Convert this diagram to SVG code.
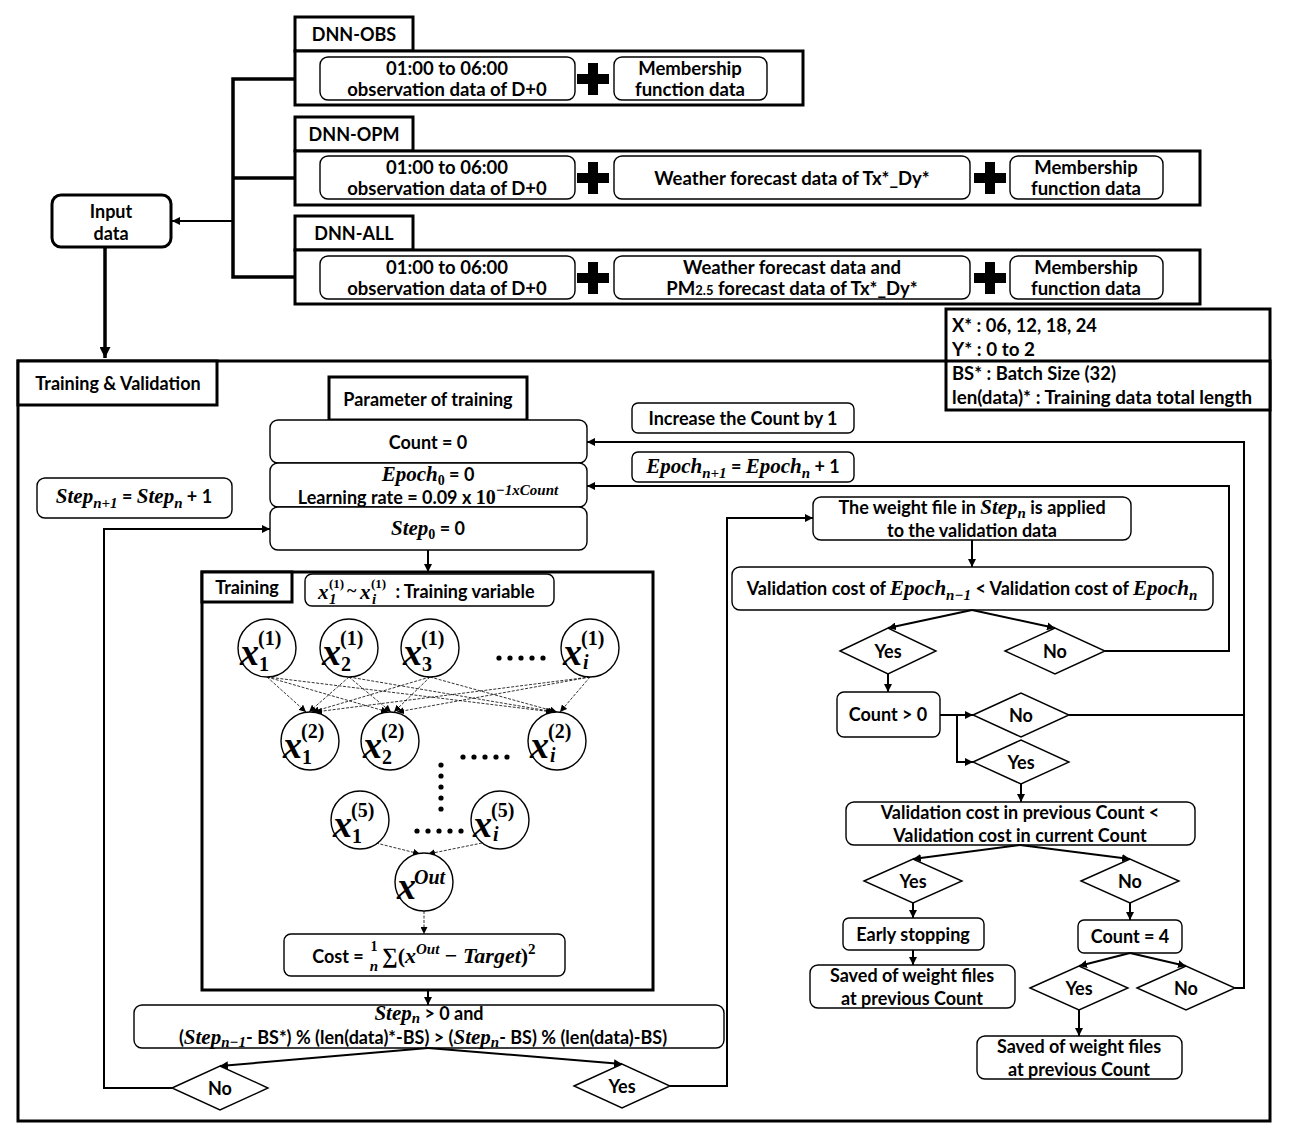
<svg xmlns="http://www.w3.org/2000/svg" width="1290" height="1141" viewBox="0 0 1290 1141">
<defs>
<style>
.bx{fill:#fff;stroke:#000;stroke-width:3}
.rb{fill:#fff;stroke:#000;stroke-width:1.4}
.ln{fill:none;stroke:#000;stroke-width:2}
.th{fill:none;stroke:#000;stroke-width:3.5}
.nn{fill:none;stroke:#000;stroke-width:0.8;stroke-dasharray:3 1.5}
.nc{fill:#fff;stroke:#000;stroke-width:1.4}
.t{font-family:Lato,'Open Sans',sans-serif;font-weight:700;font-size:18px;text-anchor:middle;fill:#000}
.tt{font-size:18.5px}
.n{font-family:Lato,'Open Sans',sans-serif;font-weight:700;font-size:19px;fill:#000}
.m{font-family:'Liberation Serif','DejaVu Serif',serif;font-style:italic;font-weight:700;font-size:21px}
.s{font-family:'Liberation Serif','DejaVu Serif',serif;font-style:italic;font-weight:700;font-size:15px}
.u{font-family:'Liberation Serif','DejaVu Serif',serif;font-weight:700}
.cx{font-family:'Liberation Serif','DejaVu Serif',serif;font-style:italic;font-weight:700;font-size:38px;fill:#000}
.cs{font-family:'Liberation Serif','DejaVu Serif',serif;font-weight:700;font-size:20px;fill:#000}
.dt{fill:#000}
</style>
<marker id="ah" viewBox="0 0 10 10" refX="10" refY="5" markerWidth="8" markerHeight="8" markerUnits="userSpaceOnUse" orient="auto">
<path d="M0,0 L10,5 L0,10 z" fill="#000"/>
</marker>
<marker id="as" viewBox="0 0 10 10" refX="10" refY="5" markerWidth="7" markerHeight="7" markerUnits="userSpaceOnUse" orient="auto">
<path d="M0,0 L10,5 L0,10 z" fill="#000"/>
</marker>
<marker id="ab" viewBox="0 0 10 10" refX="10" refY="5" markerWidth="11" markerHeight="11" markerUnits="userSpaceOnUse" orient="auto">
<path d="M0,0 L10,5 L0,10 z" fill="#000"/>
</marker>
<path id="plus" d="M-5,-16 h10 v11 h11 v10 h-11 v11 h-10 v-11 h-11 v-10 h11 z" fill="#000"/>
</defs>

<!-- Top input groups -->
<g id="dnn-obs">
<rect class="bx" x="295" y="17" width="118" height="34"/>
<text class="t" x="354" y="41">DNN-OBS</text>
<rect class="bx" x="295" y="51" width="508" height="54"/>
<rect class="rb" x="320" y="57" width="255" height="43" rx="8"/>
<text class="t tt" x="447" y="75">01:00 to 06:00</text>
<text class="t tt" x="447" y="96">observation data of D+0</text>
<use href="#plus" x="593" y="79"/>
<rect class="rb" x="614" y="57" width="153" height="43" rx="8"/>
<text class="t tt" x="690" y="75">Membership</text>
<text class="t tt" x="690" y="96">function data</text>
</g>

<g id="dnn-opm">
<rect class="bx" x="295" y="117" width="118" height="34"/>
<text class="t" x="354" y="141">DNN-OPM</text>
<rect class="bx" x="295" y="151" width="905" height="54"/>
<rect class="rb" x="320" y="156" width="255" height="43" rx="8"/>
<text class="t tt" x="447" y="174">01:00 to 06:00</text>
<text class="t tt" x="447" y="195">observation data of D+0</text>
<use href="#plus" x="593" y="178"/>
<rect class="rb" x="614" y="156" width="356" height="43" rx="8"/>
<text class="t tt" x="792" y="185" font-size="19">Weather forecast data of Tx*_Dy*</text>
<use href="#plus" x="990" y="178"/>
<rect class="rb" x="1010" y="156" width="153" height="43" rx="8"/>
<text class="t tt" x="1086" y="174">Membership</text>
<text class="t tt" x="1086" y="195">function data</text>
</g>

<g id="dnn-all">
<rect class="bx" x="295" y="216" width="118" height="34"/>
<text class="t" x="354" y="240">DNN-ALL</text>
<rect class="bx" x="295" y="250" width="905" height="54"/>
<rect class="rb" x="320" y="256" width="255" height="43" rx="8"/>
<text class="t tt" x="447" y="274">01:00 to 06:00</text>
<text class="t tt" x="447" y="295">observation data of D+0</text>
<use href="#plus" x="593" y="278"/>
<rect class="rb" x="614" y="256" width="356" height="43" rx="8"/>
<text class="t tt" x="792" y="274">Weather forecast data and</text>
<text class="t tt" x="792" y="295">PM<tspan font-size="13">2.5</tspan> forecast data of Tx*_Dy*</text>
<use href="#plus" x="990" y="278"/>
<rect class="rb" x="1010" y="256" width="153" height="43" rx="8"/>
<text class="t tt" x="1086" y="274">Membership</text>
<text class="t tt" x="1086" y="295">function data</text>
</g>

<g id="input-data">
<rect x="52" y="195" width="119" height="52" rx="9" fill="#fff" stroke="#000" stroke-width="3"/>
<text class="t" x="111" y="218" font-size="20">Input</text>
<text class="t" x="111" y="240" font-size="20">data</text>
</g>

<!-- Training & Validation frame -->
<g id="frame">
<rect x="18" y="361" width="1252" height="760" fill="none" stroke="#000" stroke-width="3"/>
<rect class="bx" x="18" y="361" width="199" height="44"/>
<text class="t" x="118" y="390">Training &amp; Validation</text>
</g>

<g id="notes">
<rect x="946" y="309" width="324" height="101" fill="#fff" stroke="#000" stroke-width="3"/>
<line x1="946" y1="361" x2="1270" y2="361" stroke="#000" stroke-width="3"/>
<text class="n" x="952" y="332" textLength="145" lengthAdjust="spacingAndGlyphs">X* : 06, 12, 18, 24</text>
<text class="n" x="952" y="356" textLength="83" lengthAdjust="spacingAndGlyphs">Y* : 0 to 2</text>
<text class="n" x="952" y="380" textLength="164" lengthAdjust="spacingAndGlyphs">BS* : Batch Size (32)</text>
<text class="n" x="952" y="404" textLength="300" lengthAdjust="spacingAndGlyphs">len(data)* : Training data total length</text>
</g>

<g id="param-tab">
<rect class="bx" x="329" y="377" width="198" height="43"/>
<text class="t" x="428" y="406">Parameter of training</text>
</g>
<g id="count0">
<rect class="rb" x="270" y="420" width="317" height="43" rx="8"/>
<text class="t" x="428" y="449">Count = 0</text>
</g>
<g id="epoch0">
<rect class="rb" x="270" y="463" width="317" height="44" rx="8"/>
<text class="t" x="428" y="481"><tspan class="m">Epoch</tspan><tspan class="u" font-size="14" dy="4">0</tspan><tspan dy="-4"> = 0</tspan></text>
<text class="t" x="428" y="504">Learning rate = 0.09 x <tspan class="u" font-size="20">10</tspan><tspan class="s" font-size="14" dy="-9">−1xCount</tspan></text>
</g>
<g id="step0">
<rect class="rb" x="270" y="507" width="317" height="43" rx="8"/>
<text class="t" x="428" y="535"><tspan class="m">Step</tspan><tspan class="u" font-size="14" dy="4">0</tspan><tspan dy="-4"> = 0</tspan></text>
</g>
<g id="step-inc">
<rect class="rb" x="37" y="478" width="195" height="40" rx="8"/>
<text class="t" x="134" y="503"><tspan class="m">Step</tspan><tspan class="s" dy="5">n+1</tspan><tspan dy="-5"> = </tspan><tspan class="m">Step</tspan><tspan class="s" dy="5">n</tspan><tspan dy="-5"> + 1</tspan></text>
</g>

<!-- Training network -->
<g id="training">
<rect x="202" y="572" width="451" height="418" fill="none" stroke="#000" stroke-width="3"/>
<rect class="bx" x="202" y="572" width="90" height="30"/>
<text class="t" x="247" y="594">Training</text>
<rect class="rb" x="305" y="574" width="249" height="32" rx="7"/>
<text x="318" y="599" font-family="'Liberation Serif','DejaVu Serif',serif" font-weight="700" font-size="21" font-style="italic">x</text>
<text x="329" y="588" class="u" font-size="13">(1)</text>
<text x="329" y="604" class="s" font-size="13">1</text>
<text x="347" y="597" class="u" font-size="18">~</text>
<text x="360" y="599" font-family="'Liberation Serif','DejaVu Serif',serif" font-weight="700" font-size="21" font-style="italic">x</text>
<text x="371" y="588" class="u" font-size="13">(1)</text>
<text x="372" y="604" class="s" font-size="13">i</text>
<text class="t" x="465" y="598">: Training variable</text>
</g>

<g id="net-links">
<line class="nn" x1="267" y1="677" x2="306" y2="712" marker-end="url(#as)"/>
<line class="nn" x1="267" y1="677" x2="388" y2="712" marker-end="url(#as)"/>
<line class="nn" x1="267" y1="677" x2="553" y2="712" marker-end="url(#as)"/>
<line class="nn" x1="349" y1="677" x2="309" y2="712" marker-end="url(#as)"/>
<line class="nn" x1="349" y1="677" x2="391" y2="712" marker-end="url(#as)"/>
<line class="nn" x1="349" y1="677" x2="555" y2="712" marker-end="url(#as)"/>
<line class="nn" x1="430" y1="677" x2="312" y2="712" marker-end="url(#as)"/>
<line class="nn" x1="430" y1="677" x2="394" y2="712" marker-end="url(#as)"/>
<line class="nn" x1="430" y1="677" x2="557" y2="712" marker-end="url(#as)"/>
<line class="nn" x1="590" y1="677" x2="315" y2="712" marker-end="url(#as)"/>
<line class="nn" x1="590" y1="677" x2="397" y2="712" marker-end="url(#as)"/>
<line class="nn" x1="590" y1="677" x2="560" y2="712" marker-end="url(#as)"/>
<line class="nn" x1="376" y1="843" x2="420" y2="854" marker-end="url(#as)"/>
<line class="nn" x1="482" y1="843" x2="428" y2="854" marker-end="url(#as)"/>
<line class="nn" x1="424" y1="911" x2="424" y2="934" marker-end="url(#as)"/>
</g>

<g id="n1-1"><circle class="nc" cx="267" cy="648" r="29"/><text class="cx" x="240" y="665">x</text><text class="cs" x="258" y="645">(1)</text><text class="cs" x="259" y="671">1</text></g>
<g id="n1-2"><circle class="nc" cx="349" cy="648" r="29"/><text class="cx" x="322" y="665">x</text><text class="cs" x="340" y="645">(1)</text><text class="cs" x="341" y="671">2</text></g>
<g id="n1-3"><circle class="nc" cx="430" cy="648" r="29"/><text class="cx" x="403" y="665">x</text><text class="cs" x="421" y="645">(1)</text><text class="cs" x="422" y="671">3</text></g>
<g id="n1-i"><circle class="nc" cx="590" cy="648" r="29"/><text class="cx" x="563" y="665">x</text><text class="cs" x="581" y="645">(1)</text><text class="cs" x="583" y="669" font-style="italic">i</text></g>
<g id="n2-1"><circle class="nc" cx="310" cy="741" r="29"/><text class="cx" x="283" y="758">x</text><text class="cs" x="301" y="738">(2)</text><text class="cs" x="302" y="764">1</text></g>
<g id="n2-2"><circle class="nc" cx="390" cy="741" r="29"/><text class="cx" x="363" y="758">x</text><text class="cs" x="381" y="738">(2)</text><text class="cs" x="382" y="764">2</text></g>
<g id="n2-i"><circle class="nc" cx="557" cy="741" r="29"/><text class="cx" x="530" y="758">x</text><text class="cs" x="548" y="738">(2)</text><text class="cs" x="550" y="762" font-style="italic">i</text></g>
<g id="n5-1"><circle class="nc" cx="360" cy="820" r="29"/><text class="cx" x="333" y="837">x</text><text class="cs" x="351" y="817">(5)</text><text class="cs" x="352" y="843">1</text></g>
<g id="n5-i"><circle class="nc" cx="500" cy="820" r="29"/><text class="cx" x="473" y="837">x</text><text class="cs" x="491" y="817">(5)</text><text class="cs" x="493" y="841" font-style="italic">i</text></g>
<g id="n-out"><circle class="nc" cx="424" cy="882" r="29"/><text class="cx" x="397" y="899">x</text><text class="cs" x="414" y="884" font-style="italic">Out</text></g>

<g id="dots">
<circle class="dt" cx="499" cy="658" r="2.6"/><circle class="dt" cx="510" cy="658" r="2.6"/><circle class="dt" cx="521" cy="658" r="2.6"/><circle class="dt" cx="532" cy="658" r="2.6"/><circle class="dt" cx="543" cy="658" r="2.6"/>
<circle class="dt" cx="463" cy="757" r="2.6"/><circle class="dt" cx="474" cy="757" r="2.6"/><circle class="dt" cx="485" cy="757" r="2.6"/><circle class="dt" cx="496" cy="757" r="2.6"/><circle class="dt" cx="507" cy="757" r="2.6"/>
<circle class="dt" cx="441" cy="765" r="2.6"/><circle class="dt" cx="441" cy="776" r="2.6"/><circle class="dt" cx="441" cy="787" r="2.6"/><circle class="dt" cx="441" cy="798" r="2.6"/><circle class="dt" cx="441" cy="809" r="2.6"/>
<circle class="dt" cx="417" cy="831" r="2.6"/><circle class="dt" cx="428" cy="831" r="2.6"/><circle class="dt" cx="439" cy="831" r="2.6"/><circle class="dt" cx="450" cy="831" r="2.6"/><circle class="dt" cx="461" cy="831" r="2.6"/>
</g>

<g id="cost">
<rect class="rb" x="284" y="934" width="281" height="42" rx="7"/>
<text class="t" x="338" y="963">Cost =</text>
<text class="u" x="374" y="951" font-size="14" text-anchor="middle">1</text>
<text class="s" x="374" y="971" font-size="14" text-anchor="middle">n</text>
<text x="382" y="963" font-family="'Liberation Serif','DejaVu Serif',serif" font-size="22" font-weight="700"><tspan>∑(</tspan><tspan font-style="italic">x</tspan><tspan font-style="italic" font-size="15" dy="-9">Out</tspan><tspan dy="9"> − </tspan><tspan font-style="italic">Target</tspan><tspan>)</tspan><tspan font-size="15" dy="-9">2</tspan></text>
</g>

<g id="step-cond">
<rect class="rb" x="134" y="1005" width="590" height="43" rx="8"/>
<text class="t" x="429" y="1020"><tspan class="m">Step</tspan><tspan class="s" dy="3">n</tspan><tspan dy="-3"> &gt; 0 and</tspan></text>
<text class="t" x="423" y="1044">(<tspan class="m">Step</tspan><tspan class="s" dy="3">n−1</tspan><tspan dy="-3">- BS*) % (len(data)*-BS)  &gt; (</tspan><tspan class="m">Step</tspan><tspan class="s" dy="3">n</tspan><tspan dy="-3">- BS) % (len(data)-BS)</tspan></text>
</g>
<g id="d-step-no">
<path class="rb" d="M172,1088 L220,1066 L268,1088 L220,1110 z"/>
<text class="t" x="220" y="1095">No</text>
</g>
<g id="d-step-yes">
<path class="rb" d="M574,1086 L622,1064 L670,1086 L622,1108 z"/>
<text class="t" x="622" y="1093">Yes</text>
</g>

<!-- Right side -->
<g id="inc-count">
<rect class="rb" x="632" y="403" width="222" height="30" rx="6"/>
<text class="t" x="743" y="425">Increase the Count by 1</text>
</g>
<g id="epoch-inc">
<rect class="rb" x="632" y="452" width="222" height="30" rx="6"/>
<text class="t" x="743" y="473"><tspan class="m">Epoch</tspan><tspan class="s" dy="5">n+1</tspan><tspan dy="-5"> = </tspan><tspan class="m">Epoch</tspan><tspan class="s" dy="5">n</tspan><tspan dy="-5"> + 1</tspan></text>
</g>
<g id="weight-file">
<rect class="rb" x="813" y="497" width="318" height="43" rx="8"/>
<text class="t" x="972" y="514">The weight file in <tspan class="m">Step</tspan><tspan class="s" dy="4">n</tspan><tspan dy="-4"> is applied</tspan></text>
<text class="t" x="972" y="537">to the validation data</text>
</g>
<g id="val-epoch">
<rect class="rb" x="732" y="567" width="481" height="43" rx="8"/>
<text class="t" x="972" y="595">Validation cost of <tspan class="m">Epoch</tspan><tspan class="s" dy="5">n−1</tspan><tspan dy="-5"> &lt; Validation cost of </tspan><tspan class="m">Epoch</tspan><tspan class="s" dy="5">n</tspan></text>
</g>
<g id="d-ve-yes"><path class="rb" d="M840,651 L888,628 L936,651 L888,674 z"/><text class="t" x="888" y="658">Yes</text></g>
<g id="d-ve-no"><path class="rb" d="M1005,651 L1055,628 L1105,651 L1055,674 z"/><text class="t" x="1055" y="658">No</text></g>
<g id="count-gt0">
<rect class="rb" x="837" y="692" width="103" height="45" rx="7"/>
<text class="t" x="888" y="721">Count &gt; 0</text>
</g>
<g id="d-c0-no"><path class="rb" d="M973,715 L1021,693 L1069,715 L1021,737 z"/><text class="t" x="1021" y="722">No</text></g>
<g id="d-c0-yes"><path class="rb" d="M973,762 L1021,740 L1069,762 L1021,784 z"/><text class="t" x="1021" y="769">Yes</text></g>
<g id="val-count">
<rect class="rb" x="846" y="802" width="349" height="43" rx="8"/>
<text class="t" x="1020" y="819">Validation cost in previous Count &lt;</text>
<text class="t" x="1020" y="842">Validation cost in current Count</text>
</g>
<g id="d-vc-yes"><path class="rb" d="M864,881 L913,859 L962,881 L913,903 z"/><text class="t" x="913" y="888">Yes</text></g>
<g id="d-vc-no"><path class="rb" d="M1081,881 L1130,859 L1179,881 L1130,903 z"/><text class="t" x="1130" y="888">No</text></g>
<g id="early-stop">
<rect class="rb" x="843" y="918" width="141" height="32" rx="6"/>
<text class="t" x="913" y="941">Early stopping</text>
</g>
<g id="saved-1">
<rect class="rb" x="810" y="965" width="205" height="43" rx="8"/>
<text class="t" x="912" y="982">Saved of weight files</text>
<text class="t" x="912" y="1005">at previous Count</text>
</g>
<g id="count4">
<rect class="rb" x="1078" y="920" width="104" height="33" rx="6"/>
<text class="t" x="1130" y="943">Count = 4</text>
</g>
<g id="d-c4-yes"><path class="rb" d="M1030,988 L1079,966 L1128,988 L1079,1010 z"/><text class="t" x="1079" y="995">Yes</text></g>
<g id="d-c4-no"><path class="rb" d="M1137,988 L1186,966 L1235,988 L1186,1010 z"/><text class="t" x="1186" y="995">No</text></g>
<g id="saved-2">
<rect class="rb" x="977" y="1036" width="205" height="43" rx="8"/>
<text class="t" x="1079" y="1053">Saved of weight files</text>
<text class="t" x="1079" y="1076">at previous Count</text>
</g>

<!-- Connectors -->
<g id="connectors">
<polyline class="th" points="295,79 233,79 233,277 295,277"/>
<line class="th" x1="233" y1="178" x2="295" y2="178"/>
<line class="ln" x1="233" y1="221" x2="172" y2="221" marker-end="url(#ah)"/>
<line class="th" x1="105" y1="247" x2="105" y2="358" marker-end="url(#ab)"/>
<line class="ln" x1="428" y1="550" x2="428" y2="572" marker-end="url(#ah)"/>
<line class="ln" x1="428" y1="990" x2="428" y2="1005" marker-end="url(#ah)"/>
<line class="ln" x1="428" y1="1048" x2="220" y2="1066" marker-end="url(#ah)"/>
<line class="ln" x1="428" y1="1048" x2="622" y2="1064" marker-end="url(#ah)"/>
<polyline class="ln" points="172,1088 104,1088 104,529 270,529" marker-end="url(#ah)"/>
<polyline class="ln" points="670,1086 727,1086 727,518 813,518" marker-end="url(#ah)"/>
<line class="ln" x1="972" y1="540" x2="972" y2="567" marker-end="url(#ah)"/>
<line class="ln" x1="972" y1="610" x2="888" y2="628" marker-end="url(#ah)"/>
<line class="ln" x1="972" y1="610" x2="1055" y2="628" marker-end="url(#ah)"/>
<polyline class="ln" points="1105,651 1229,651 1229,486 587,486" marker-end="url(#ah)"/>
<line class="ln" x1="888" y1="674" x2="888" y2="692" marker-end="url(#ah)"/>
<polyline class="ln" points="940,715 957,715 957,762 973,762" marker-end="url(#ah)"/>
<line class="ln" x1="957" y1="715" x2="973" y2="715" marker-end="url(#ah)"/>
<polyline class="ln" points="1069,715 1244,715"/>
<polyline class="ln" points="1235,988 1244,988 1244,442 587,442" marker-end="url(#ah)"/>
<line class="ln" x1="1021" y1="784" x2="1021" y2="802" marker-end="url(#ah)"/>
<line class="ln" x1="1020" y1="845" x2="913" y2="859" marker-end="url(#ah)"/>
<line class="ln" x1="1020" y1="845" x2="1130" y2="859" marker-end="url(#ah)"/>
<line class="ln" x1="913" y1="903" x2="913" y2="918" marker-end="url(#ah)"/>
<line class="ln" x1="913" y1="950" x2="913" y2="965" marker-end="url(#ah)"/>
<line class="ln" x1="1130" y1="903" x2="1130" y2="920" marker-end="url(#ah)"/>
<line class="ln" x1="1130" y1="953" x2="1079" y2="966" marker-end="url(#ah)"/>
<line class="ln" x1="1130" y1="953" x2="1186" y2="966" marker-end="url(#ah)"/>
<line class="ln" x1="1079" y1="1010" x2="1079" y2="1036" marker-end="url(#ah)"/>
</g>
</svg>
